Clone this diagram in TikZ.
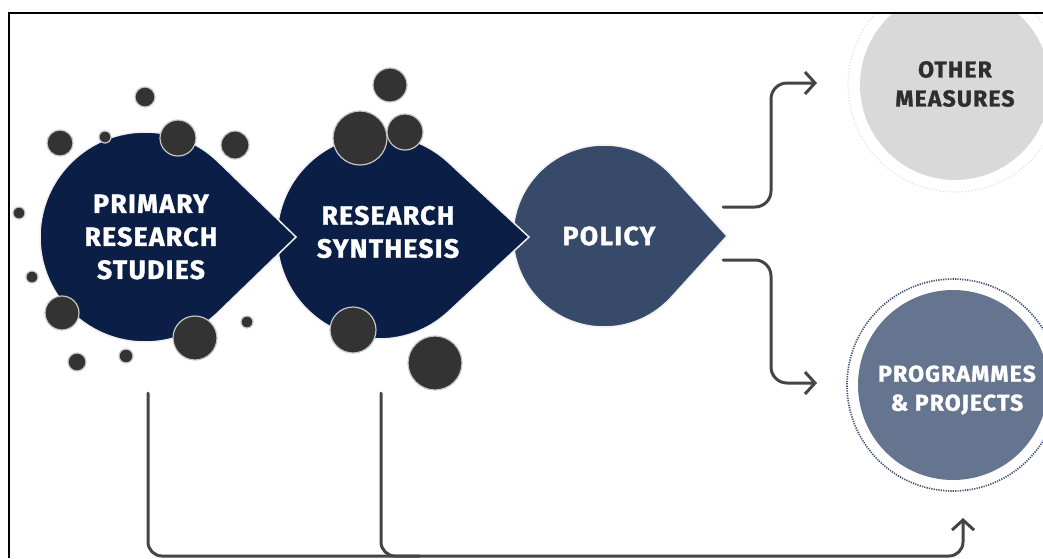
\documentclass[tikz,border=0pt]{standalone}
\usepackage{fontspec}
\usetikzlibrary{arrows.meta}
\newfontfamily\dinfont[LetterSpace=5, BoldFeatures={FakeBold=1.3}]{Fira Sans}
\definecolor{navy}{HTML}{0B1E45}
\definecolor{policyblue}{HTML}{374A69}
\definecolor{progblue}{HTML}{66758F}
\definecolor{othergray}{HTML}{D9D9D9}
\definecolor{dotgray}{HTML}{333333}
\definecolor{linegray}{HTML}{444444}
\newcommand{\teardrop}[5]{% cx, cy, r, tipx, colour
  \pgfmathsetmacro\tdang{acos(#3/(#4-#1))}
  \filldraw[fill=#5, draw=white!88!gray, line width=1.5pt]
    (#4,#2) -- ({#1+#3*cos(\tdang)},{#2+#3*sin(\tdang)})
    arc[start angle=\tdang, end angle=360-\tdang, radius=#3] -- cycle;
}
\tikzset{
  droptext/.style={text=white, align=center, font=\dinfont\bfseries\fontsize{26.5}{33}\selectfont},
  circtext/.style={align=center, font=\dinfont\bfseries\fontsize{23}{29}\selectfont},
  conn/.style={draw=linegray, line width=3pt, line cap=round, rounded corners=16pt,
    -{Straight Barb[length=10pt,width=22pt,line width=3pt]}},
  plainconn/.style={draw=linegray, line width=3pt, line cap=round, rounded corners=14pt},
  dot/.style={fill=dotgray, draw=gray!45, line width=1.2pt}
}
\begin{document}
\begin{tikzpicture}[x=1pt,y=-1pt]
\useasboundingbox (0,0) rectangle (1043,558);
\begin{scope}
\clip (10,14) rectangle (1043,558);
% right-hand circles
\draw[othergray!80!white, line width=1.2pt, dotted] (955,85) circle[radius=107];
\fill[othergray] (955,85) circle[radius=95];
\node[circtext, text=dotgray!90!black] (other) at (955,84) {OTHER\\MEASURES};
\draw[progblue!55!navy, line width=1.7pt, dash pattern=on 1.2pt off 1.2pt] (953,385) circle[radius=106];
\fill[progblue] (953,385) circle[radius=95];
\node[circtext, text=white] (prog) at (957,390) {PROGRAMMES\\\&~PROJECTS};
% teardrops
\teardrop{604}{236}{91}{727}{policyblue}
\teardrop{379}{237}{102}{529}{navy}
\teardrop{145}{237}{105}{296}{navy}
% dots
\foreach \x/\y/\r in {145/97/10, 60/143/13, 105/137/6, 178/138/18, 235/145/14,
  19/213/6, 32/277/6, 62/313/17, 195/338/22, 247/322/6, 77/362/9, 126/356/7,
  390/85/17, 360/138/27, 405/132/18, 353/330/23, 435/363/27}
  \filldraw[dot] (\x,\y) circle[radius=\r];
% texts
\node[droptext] (prim) at (151,237) {PRIMARY\\RESEARCH\\STUDIES};
\node[droptext] (synth) at (388,232) {RESEARCH\\SYNTHESIS};
\node[droptext] (policy) at (609,236) {POLICY};
% connectors
\coordinate (pa) at (723,207);
\coordinate (pb) at (723,260);
\coordinate (ea) at (817,83);
\coordinate (eb) at (817,383);
\draw[conn] (pa) -- (771,207) -- (771,83) -- (ea);
\draw[conn] (pb) -- (771,260) -- (771,383) -- (eb);
\coordinate (s1) at (148,393);
\coordinate (s2) at (381,393);
\coordinate (ec) at (963,518);
\draw[conn, rounded corners=14pt] (s1) -- (148,556) -- (963,556) -- (ec);
\draw[plainconn] (s2) -- (381,556) -- (420,556);
\end{scope}
\draw[black, line width=2.5pt] (9,558) -- (9,13) -- (1043,13);
\end{tikzpicture}
\end{document}
